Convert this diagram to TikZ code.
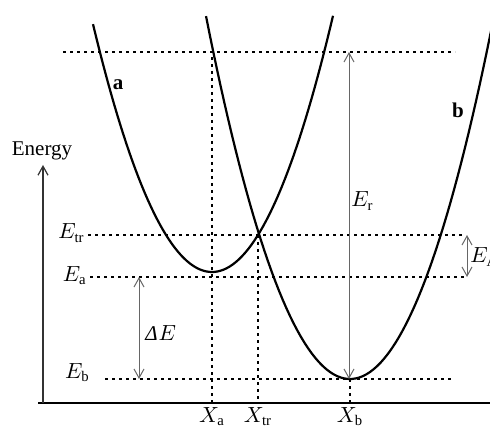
\documentclass[tikz,border=0pt]{standalone}
\usepackage{fontspec}
\setmainfont{Liberation Serif}
\usepackage{tikz}
\usetikzlibrary{arrows.meta}

\begin{document}
\begin{tikzpicture}[
  x=0.5pt, y=-0.5pt,
  font=\fontsize{10.5}{12}\selectfont,
  curve/.style={line width=1.1pt, black},
  level/.style={line width=0.75pt, dash pattern=on 1.6pt off 1.9pt},
  axis/.style={line width=0.9pt, black},
  darr/.style={{Straight Barb[length=4.5pt,width=5pt]}-{Straight Barb[length=4.5pt,width=5pt]},
               line width=0.5pt, black!60},
  lbl/.style={inner sep=0pt}
]
\useasboundingbox (0,0) rectangle (490,426);

% Axes
\coordinate (O) at (43,403);
\coordinate (Xend) at (490,403);
\coordinate (Xstart) at (38,403);
\coordinate (Ytop) at (43,165);
\draw[axis] (Xstart) -- (Xend);
\draw[line width=0.6pt, black!80, -{Straight Barb[length=4.5pt,width=5pt]}] (O) -- (Ytop);
\node[lbl, anchor=south] (energy) at (42,160) {Energy};

% Levels
\coordinate (top-l) at (63,52);   \coordinate (top-r) at (455,52);
\coordinate (tr-l) at (88,235);   \coordinate (tr-r) at (465,235);
\coordinate (a-l) at (90,277);    \coordinate (a-r) at (465,277);
\coordinate (b-l) at (105,379);   \coordinate (b-r) at (452,379);
\draw[level] (top-l) -- (top-r);
\draw[level] (tr-l) -- (tr-r);
\draw[level] (a-l) -- (a-r);
\draw[level] (b-l) -- (b-r);

% Verticals
\coordinate (Xa-t) at (212,57);   \coordinate (Xa) at (212,403);
\coordinate (Xtr-t) at (258,235); \coordinate (Xtr) at (258,403);
\coordinate (Xb-t) at (350,379);  \coordinate (Xb) at (350,403);
\draw[level] (Xa-t) -- (Xa);
\draw[level] (Xtr-t) -- (Xtr);
\draw[level] (Xb-t) -- (Xb);

% Curves
\draw[curve] plot[domain=93:333, samples=80] (\x, {272-1.75*((\x-212)/10)^2});
\draw[curve] plot[domain=206:494, samples=80] (\x, {379-1.75*((\x-350)/10)^2});
\node[lbl, font=\fontsize{10.5}{12}\selectfont\bfseries] (la) at (118,85) {a};
\node[lbl, font=\fontsize{10.5}{12}\selectfont\bfseries] (lb) at (458,110) {b};

% Energy differences
\coordinate (Er-t) at (349,52);   \coordinate (Er-b) at (349,379);
\coordinate (dE-t) at (139,277);  \coordinate (dE-b) at (139,379);
\coordinate (EA-t) at (467,235);  \coordinate (EA-b) at (467,277);
\draw[darr] (Er-b) -- (Er-t);
\draw[darr] (dE-t) -- (dE-b);
\draw[darr] (EA-t) -- (EA-b);
\node[lbl, anchor=west] (Er) at (351,201) {$E_{\mathrm{r}}$};
\node[lbl, anchor=west] (dE) at (145,333) {\textit{Δ}\kern0.5pt$E$};
\node[lbl, anchor=west] (EA) at (470,257) {$E_{\mathrm{A}}$};

% Level labels
\node[lbl, anchor=base east] (Etr) at (85,239) {$E_{\mathrm{tr}}$};
\node[lbl, anchor=base east] (Ea) at (87,281) {$E_{\mathrm{a}}$};
\node[lbl, anchor=base east] (Eb) at (90,378) {$E_{\mathrm{b}}$};

% Coordinate labels
\node[lbl, anchor=north] (lXa) at (212,407) {$X_{\mathrm{a}}$};
\node[lbl, anchor=north] (lXtr) at (258,407) {$X_{\mathrm{tr}}$};
\node[lbl, anchor=north] (lXb) at (350,407) {$X_{\mathrm{b}}$};

\end{tikzpicture}
\end{document}
